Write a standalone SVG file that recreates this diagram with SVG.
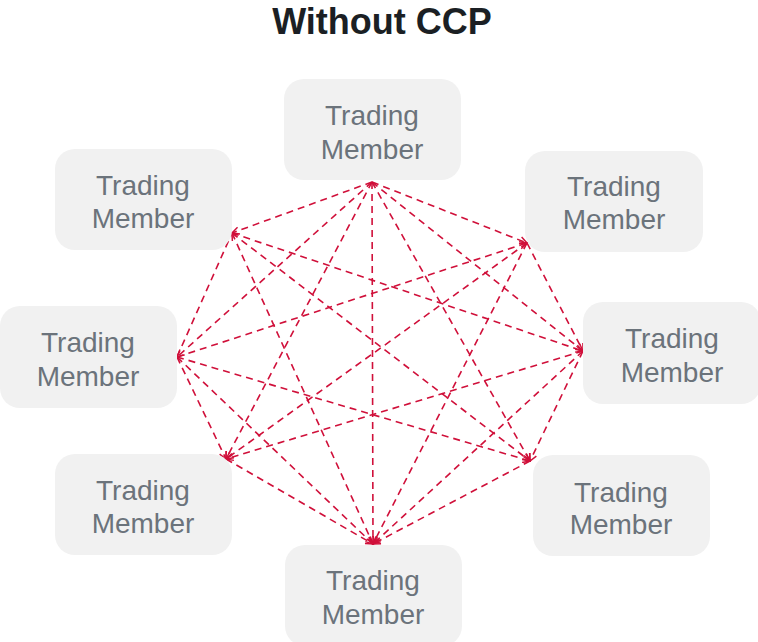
<svg xmlns="http://www.w3.org/2000/svg" width="758" height="642" viewBox="0 0 758 642">
  <style>
    .title { font-family: "Liberation Sans", Arial, sans-serif; font-size: 36px; font-weight: bold; fill: #1b1f24; }
    .box { fill: #f1f1f1; }
    .lbl { font-family: "Liberation Sans", Arial, sans-serif; font-size: 28px; fill: #6b737b; text-anchor: middle; }
    .link { stroke: #d0103a; stroke-width: 1.6; stroke-dasharray: 7 5; fill: none; marker-end: url(#tip); }
  </style>
  <defs>
    <marker id="tip" viewBox="0 0 10 10" refX="9" refY="5" markerWidth="9" markerHeight="9" markerUnits="userSpaceOnUse" orient="auto">
      <path d="M1,1 L9,5 L1,9" fill="none" stroke="#d0103a" stroke-width="1.6"/>
    </marker>
  </defs>

  <rect width="758" height="642" fill="#ffffff"/>
  <text class="title" x="382" y="34" text-anchor="middle">Without CCP</text>

  <g id="connectors">
    <!-- from top -->
    <line class="link" x1="372" y1="182" x2="527" y2="243"/>
    <line class="link" x1="372" y1="182" x2="583" y2="351"/>
    <line class="link" x1="372" y1="182" x2="530" y2="461"/>
    <line class="link" x1="372" y1="182" x2="373" y2="544"/>
    <line class="link" x1="372" y1="182" x2="226" y2="459"/>
    <line class="link" x1="372" y1="182" x2="177" y2="357"/>
    <line class="link" x1="372" y1="182" x2="232" y2="233"/>
    <!-- from left -->
    <line class="link" x1="177" y1="357" x2="232" y2="233"/>
    <line class="link" x1="177" y1="357" x2="527" y2="243"/>
    <line class="link" x1="177" y1="357" x2="530" y2="461"/>
    <line class="link" x1="177" y1="357" x2="226" y2="459"/>
    <line class="link" x1="177" y1="357" x2="373" y2="544"/>
    <!-- from top-left -->
    <line class="link" x1="232" y1="233" x2="583" y2="351"/>
    <line class="link" x1="232" y1="233" x2="530" y2="461"/>
    <line class="link" x1="232" y1="233" x2="373" y2="544"/>
    <!-- from top-right -->
    <line class="link" x1="527" y1="243" x2="583" y2="351"/>
    <line class="link" x1="527" y1="243" x2="226" y2="459"/>
    <line class="link" x1="527" y1="243" x2="373" y2="544"/>
    <!-- from right -->
    <line class="link" x1="583" y1="351" x2="530" y2="461"/>
    <line class="link" x1="583" y1="351" x2="226" y2="459"/>
    <line class="link" x1="583" y1="351" x2="373" y2="544"/>
    <!-- from bottom-right / bottom-left -->
    <line class="link" x1="530" y1="461" x2="373" y2="544"/>
    <line class="link" x1="226" y1="459" x2="373" y2="544"/>
  </g>

  <g id="member-top">
    <rect class="box" x="284" y="79" width="177" height="101" rx="20"/>
    <text class="lbl" x="372" y="125">Trading</text>
    <text class="lbl" x="372" y="159">Member</text>
  </g>
  <g id="member-top-left">
    <rect class="box" x="55" y="149" width="177" height="101" rx="20"/>
    <text class="lbl" x="143" y="195">Trading</text>
    <text class="lbl" x="143" y="228">Member</text>
  </g>
  <g id="member-top-right">
    <rect class="box" x="525" y="151" width="178" height="101" rx="20"/>
    <text class="lbl" x="614" y="196">Trading</text>
    <text class="lbl" x="614" y="229">Member</text>
  </g>
  <g id="member-left">
    <rect class="box" x="0" y="306" width="177" height="102" rx="20"/>
    <text class="lbl" x="88" y="352">Trading</text>
    <text class="lbl" x="88" y="386">Member</text>
  </g>
  <g id="member-right">
    <rect class="box" x="583" y="302" width="178" height="102" rx="20"/>
    <text class="lbl" x="672" y="348">Trading</text>
    <text class="lbl" x="672" y="382">Member</text>
  </g>
  <g id="member-bottom-left">
    <rect class="box" x="55" y="454" width="177" height="101" rx="20"/>
    <text class="lbl" x="143" y="500">Trading</text>
    <text class="lbl" x="143" y="533">Member</text>
  </g>
  <g id="member-bottom-right">
    <rect class="box" x="533" y="455" width="177" height="101" rx="20"/>
    <text class="lbl" x="621" y="502">Trading</text>
    <text class="lbl" x="621" y="534">Member</text>
  </g>
  <g id="member-bottom">
    <rect class="box" x="285" y="545" width="177" height="101" rx="20"/>
    <text class="lbl" x="373" y="590">Trading</text>
    <text class="lbl" x="373" y="624">Member</text>
  </g>
</svg>
